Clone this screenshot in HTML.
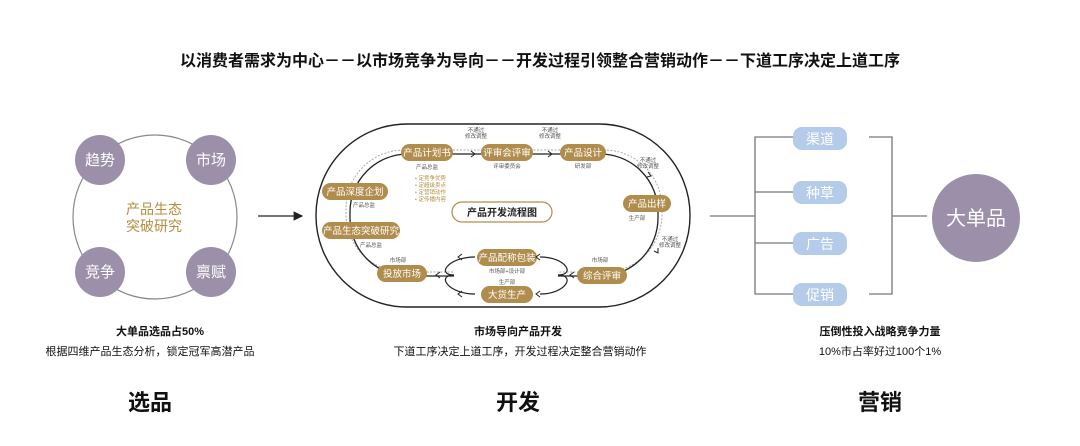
<!DOCTYPE html><html><head><meta charset="utf-8"><style>
body{margin:0;width:1080px;height:441px;background:#fff;overflow:hidden;font-family:"Liberation Sans","Noto Sans CJK SC",sans-serif}
</style></head><body>
<svg width="1080" height="441" viewBox="0 0 1080 441" xmlns="http://www.w3.org/2000/svg" style="font-family:'Liberation Sans','Noto Sans CJK SC',sans-serif">
<defs><marker id="ar" markerWidth="8" markerHeight="8" refX="7" refY="4" orient="auto"><path d="M0,0 L8,4 L0,8 Z" fill="#222"/></marker></defs>
<text x="540" y="66" text-anchor="middle" font-size="16" font-weight="bold" fill="#111">以消费者需求为中心－－以市场竞争为导向－－开发过程引领整合营销动作－－下道工序决定上道工序</text>
<!-- left -->
<circle cx="155" cy="217" r="82" fill="none" stroke="#888" stroke-width="1.2"/>
<g fill="#9c8fa9"><circle cx="100" cy="160" r="25"/><circle cx="211" cy="160" r="25"/><circle cx="100" cy="272" r="25"/><circle cx="211" cy="272" r="25"/></g>
<g fill="#fff" font-size="15" text-anchor="middle"><text x="100" y="165">趋势</text><text x="211" y="165">市场</text><text x="100" y="277">竞争</text><text x="211" y="277">禀赋</text></g>
<text x="154" y="214" text-anchor="middle" font-size="14" fill="#b38d3e">产品生态</text>
<text x="154" y="231" text-anchor="middle" font-size="14" fill="#b38d3e">突破研究</text>
<line x1="258" y1="216" x2="302" y2="216" stroke="#222" stroke-width="1.2" marker-end="url(#ar)"/>
<!-- center -->
<rect x="316" y="124" width="374" height="183" rx="91" fill="none" stroke="#222" stroke-width="1.4"/>
<rect x="346" y="150" width="316" height="122" rx="58" fill="none" stroke="#aaa" stroke-width="1" stroke-dasharray="2,1.5"/>
<rect x="350" y="154" width="308" height="122" rx="58" fill="none" stroke="#222" stroke-width="1.3"/>
<rect x="454" y="268" width="104" height="12" fill="#fff"/>
<path d="M454,275 C436,275 448,257 475,257" fill="none" stroke="#222" stroke-width="1.2"/>
<path d="M454,275 C436,275 448,294 475,294" fill="none" stroke="#222" stroke-width="1.2"/>
<path d="M558,275 C576,275 566,257 540,257" fill="none" stroke="#222" stroke-width="1.2"/>
<path d="M558,275 C576,275 566,294 540,294" fill="none" stroke="#222" stroke-width="1.2"/>
<g font-size="9.5" fill="#fff" text-anchor="middle">
<rect x="401" y="144" width="52" height="17" rx="8.5" fill="#b08d4c"/><text x="427" y="156">产品计划书</text>
<rect x="481" y="144" width="52" height="17" rx="8.5" fill="#b08d4c"/><text x="507" y="156">评审会评审</text>
<rect x="560" y="144" width="46" height="17" rx="8.5" fill="#b08d4c"/><text x="583" y="156">产品设计</text>
<rect x="623" y="195" width="48" height="17" rx="8.5" fill="#b08d4c"/><text x="647" y="207">产品出样</text>
<rect x="577" y="267" width="50" height="17" rx="8.5" fill="#b08d4c"/><text x="602" y="279">综合评审</text>
<rect x="477" y="249" width="60" height="17" rx="8.5" fill="#b08d4c"/><text x="507" y="261">产品配称包装</text>
<rect x="481" y="286" width="52" height="17" rx="8.5" fill="#b08d4c"/><text x="507" y="298">大货生产</text>
<rect x="377" y="265" width="50" height="17" rx="8.5" fill="#b08d4c"/><text x="402" y="277">投放市场</text>
<rect x="322" y="222" width="78" height="17" rx="8.5" fill="#b08d4c"/><text x="361" y="234">产品生态突破研究</text>
<rect x="322" y="183" width="66" height="17" rx="8.5" fill="#b08d4c"/><text x="355" y="195">产品深度企划</text>
</g>
<rect x="452" y="202" width="100" height="20" rx="10" fill="#fff" stroke="#b08d4c" stroke-width="1.2"/>
<text x="502" y="216" text-anchor="middle" font-size="10" font-weight="bold" fill="#222">产品开发流程图</text>
<g font-size="5.5" fill="#555" text-anchor="middle">
<text x="427" y="169">产品总监</text><text x="507" y="168">评审委员会</text><text x="583" y="168">研发部</text>
<text x="637" y="220">生产部</text><text x="600" y="262">市场部</text><text x="507" y="273">市场部+设计部</text>
<text x="507" y="284">生产部</text><text x="398" y="262">市场部</text><text x="371" y="247">产品总监</text><text x="364" y="207">产品总监</text>
<text x="476" y="132">不通过</text><text x="476" y="138">修改调整</text>
<text x="550" y="132">不通过</text><text x="550" y="138">修改调整</text>
<text x="648" y="162">不通过</text><text x="648" y="168">修改调整</text>
<text x="670" y="241">不通过</text><text x="670" y="247">修改调整</text>
</g>
<g font-size="5.5" fill="#b38d3e"><text x="415" y="180">• 定竞争优势</text><text x="415" y="187">• 定超级卖点</text><text x="415" y="194">• 定营销动作</text><text x="415" y="201">• 定传播内容</text></g>
<g stroke="#222" stroke-width="1" fill="none"><path d="M471,151 l4,3 l-4,3"/><path d="M548,151 l4,3 l-4,3"/><path d="M648,172 l3,4 l-4,1"/><path d="M658,248 l0,5 l-4,-2"/>
<path d="M574,272 l-4,3 l4,3"/><path d="M440,272 l-4,3 l4,3"/><path d="M462,254 l-4,3 l4,3"/><path d="M462,291 l-4,3 l4,3"/><path d="M540,254 l-4,3 l4,3"/><path d="M540,291 l-4,3 l4,3"/></g>
<!-- right -->
<g stroke="#777" stroke-width="1.3" fill="none">
<line x1="710" y1="216" x2="755" y2="216"/><polyline points="793,137 755,137 755,294 793,294"/>
<line x1="755" y1="192" x2="793" y2="192"/><line x1="755" y1="243" x2="793" y2="243"/>
<polyline points="869,137 892,137 892,294 869,294"/><line x1="892" y1="216" x2="927" y2="216"/></g>
<g fill="#b4cbea"><rect x="793" y="127" width="54" height="23" rx="9"/><rect x="793" y="181" width="54" height="23" rx="9"/><rect x="793" y="232" width="54" height="23" rx="9"/><rect x="793" y="283" width="54" height="23" rx="9"/></g>
<g fill="#fff" font-size="14" text-anchor="middle"><text x="820" y="144">渠道</text><text x="820" y="198">种草</text><text x="820" y="249">广告</text><text x="820" y="300">促销</text></g>
<circle cx="976" cy="218" r="44" fill="#9c8fa9"/>
<text x="976" y="225" text-anchor="middle" font-size="20" fill="#fff">大单品</text>
<!-- bottom -->
<g text-anchor="middle" fill="#111">
<text x="160" y="335" font-size="11" font-weight="bold">大单品选品占50%</text>
<text x="150" y="355" font-size="11">根据四维产品生态分析，锁定冠军高潜产品</text>
<text x="518" y="335" font-size="11" font-weight="bold">市场导向产品开发</text>
<text x="520" y="355" font-size="11">下道工序决定上道工序，开发过程决定整合营销动作</text>
<text x="880" y="335" font-size="11" font-weight="bold">压倒性投入战略竞争力量</text>
<text x="880" y="355" font-size="11">10%市占率好过100个1%</text>
<text x="150" y="410" font-size="22" font-weight="bold">选品</text>
<text x="518" y="410" font-size="22" font-weight="bold">开发</text>
<text x="880" y="410" font-size="22" font-weight="bold">营销</text>
</g>
</svg>
</body></html>
